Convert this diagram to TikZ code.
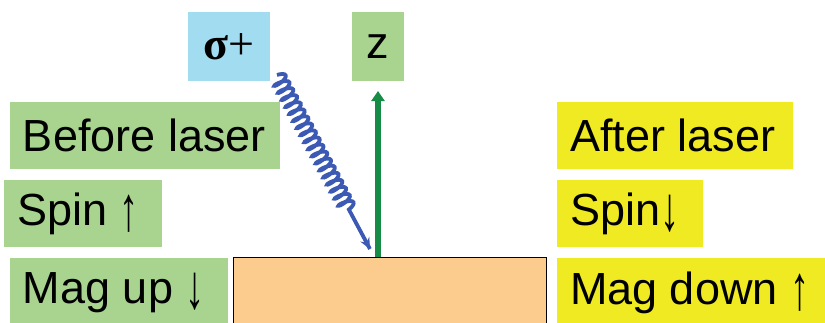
\documentclass[tikz,border=0pt]{standalone}
\usepackage{fontspec}
\setmainfont{Liberation Sans}
\newfontfamily\sigfont{Liberation Serif}
\usetikzlibrary{decorations.pathmorphing,arrows.meta,calc}
\definecolor{lgreen}{RGB}{168,212,144}
\definecolor{lblue}{RGB}{162,220,240}
\definecolor{lyellow}{RGB}{240,234,34}
\definecolor{orangebox}{RGB}{252,204,142}
\definecolor{zgreen}{RGB}{22,140,70}
\definecolor{wblue}{RGB}{60,90,180}
\newcommand{\upar}{\raisebox{-5pt}{\scalebox{0.85}[1.4]{↑}}}
\newcommand{\dnar}{\raisebox{-5pt}{\scalebox{0.85}[1.4]{↓}}}
\newcommand{\bx}[2]{\makebox[#1pt][l]{#2}}
\tikzset{
  lab/.style={inner ysep=0pt, inner xsep=13pt, font=\fontsize{45}{48}\selectfont, text=black},
  gbox/.style={lab, fill=lgreen},
  ybox/.style={lab, fill=lyellow},
}
\begin{document}
\begin{tikzpicture}[x=1pt,y=-1pt]
\useasboundingbox (0,0) rectangle (825,322);
% top labels
\node[inner sep=0pt, fill=lblue, minimum width=82, minimum height=69, font=\fontsize{46}{48}\selectfont] (sig) at (229,46.5) {\sigfont\textbf{σ}+};
\node[inner sep=0pt, fill=lgreen, minimum width=52, minimum height=69, font=\fontsize{45}{48}\selectfont] (z) at (378,46.5) {z};
% left labels
\node[gbox, minimum height=67] (before) at (145,135.5) {\bx{244}{Before laser}};
\node[gbox, minimum height=67] (spinup) at (83,213.5) {\bx{132}{Spin \upar}};
\node[gbox, minimum height=70] (magup) at (119,293) {\bx{192}{Mag up \dnar}};
% right labels
\node[ybox, minimum height=67] (after) at (675,135.5) {\bx{210}{After laser}};
\node[ybox, minimum height=67] (spindown) at (630,213.5) {\bx{120}{Spin\dnar}};
\node[ybox, minimum height=70] (magdown) at (691,293) {\bx{242}{Mag down \upar}};
% sample
\node[draw=black, line width=0.8, fill=orangebox, minimum width=313, minimum height=70, inner sep=0pt] (sub) at (389.5,292) {};
% z arrow
\coordinate (ztip) at (378,91);
\draw[zgreen, line width=6.5, -{Triangle[length=10,width=13]}] (sub.north -| ztip) -- (ztip);
% laser
\coordinate (ls) at (277,75);
\coordinate (le) at (370,249);
\draw[wblue, line width=3.8,
  decoration={coil, aspect=0.3, segment length=8, amplitude=7.5, pre length=0, post length=38},
  decorate] (ls) -- (le);
\draw[wblue, line width=2.8, -{Stealth[length=11,width=10]}] ($(ls)!0.8!(le)$) -- (le);
\end{tikzpicture}
\end{document}
